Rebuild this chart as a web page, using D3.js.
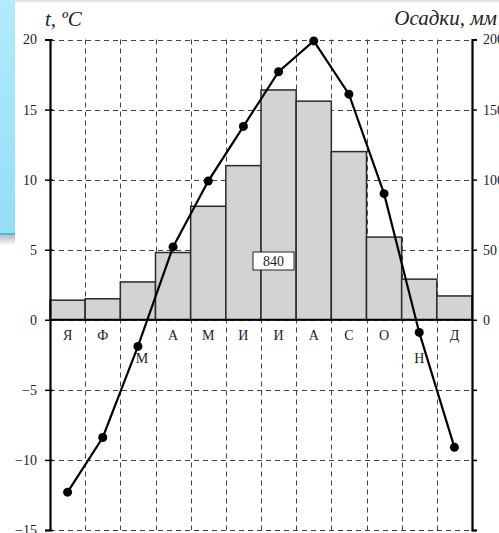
<!DOCTYPE html>
<html><head><meta charset="utf-8">
<script src="https://cdn.jsdelivr.net/npm/d3@7"></script>
<style>html,body{margin:0;padding:0;background:#fff;overflow:hidden}</style>
</head><body>
<svg id="c" width="499" height="533"></svg>
<script>
const months = ["Я","Ф","М","А","М","И","И","А","С","О","Н","Д"];
const temperature = [-12.3,-8.4,-1.9,5.2,9.9,13.8,17.7,19.9,16.1,9.0,-0.9,-9.1];
const precipitation = [14,15,27,48,81,110,164,156,120,59,29,17];
const tempTicks = [-15,-10,-5,0,5,10,15,20];
const precipTicks = [0,50,100,150,200];
const totalLabel = "840";

const svg = d3.select("#c");
const W = 499, H = 533;
const L = 50, R = 472, T = 39.5, B = 530;
const font = "'Liberation Serif','Times New Roman',serif";

// background decoration
const defs = svg.append("defs");
const g1 = defs.append("linearGradient").attr("id","blue").attr("x1",0).attr("y1",0).attr("x2",0).attr("y2",1);
g1.append("stop").attr("offset","0").attr("stop-color","#b3eafc");
g1.append("stop").attr("offset","1").attr("stop-color","#95def5");
const g2 = defs.append("linearGradient").attr("id","shadow").attr("x1",0).attr("y1",0).attr("x2",0).attr("y2",1);
g2.append("stop").attr("offset","0").attr("stop-color","#bdbdbd");
g2.append("stop").attr("offset","1").attr("stop-color","#ffffff");
svg.append("rect").attr("width",W).attr("height",H).attr("fill","#fff");
svg.append("rect").attr("x",0).attr("y",0).attr("width",W).attr("height",2).attr("fill","#e4e4e4");
svg.append("rect").attr("x",0).attr("y",0).attr("width",15).attr("height",233).attr("fill","url(#blue)");
svg.append("rect").attr("x",0).attr("y",233).attr("width",15).attr("height",2.5).attr("fill","#4fb6d3");
svg.append("rect").attr("x",0).attr("y",235.5).attr("width",15).attr("height",10).attr("fill","url(#shadow)");

const idx = d3.range(months.length);
const x = d3.scaleBand().domain(idx).range([L, R]).padding(0);
const yT = d3.scaleLinear().domain([-15, 20]).range([B, T]);
const yP = d3.scaleLinear().domain([-150, 200]).range([B, T]);

// grid
const grid = svg.append("g").attr("stroke","#444").attr("stroke-width",1).attr("stroke-dasharray","5,4").attr("fill","none");
tempTicks.forEach(t => {
  grid.append("line").attr("x1",L).attr("x2",R).attr("y1",Math.round(yT(t))+0.5).attr("y2",Math.round(yT(t))+0.5);
});
d3.range(1, months.length).forEach(i => {
  const xx = Math.round(x(i)) + 0.5;
  grid.append("line").attr("x1",xx).attr("x2",xx).attr("y1",T).attr("y2",B);
});

// bars
svg.append("g").selectAll("rect").data(idx).join("rect")
  .attr("x", i => x(i))
  .attr("width", x.bandwidth())
  .attr("y", i => yP(precipitation[i]))
  .attr("height", i => yP(0) - yP(precipitation[i]))
  .attr("fill","#d3d3d3").attr("stroke","#2a2a2a").attr("stroke-width",1.5);

// zero line
svg.append("line").attr("x1",L).attr("x2",R).attr("y1",yT(0)).attr("y2",yT(0)).attr("stroke","#000").attr("stroke-width",2);

// left axis
const leftAxis = d3.axisLeft(yT).tickValues(tempTicks).tickSize(5).tickPadding(8).tickFormat(d3.format("d"));
const ga = svg.append("g").attr("transform",`translate(${L},0)`).call(leftAxis);
ga.select(".domain").attr("stroke","#000").attr("stroke-width",2.2);
ga.selectAll(".tick line").attr("stroke","#000").attr("stroke-width",1.5).attr("x2",-5).attr("x1",3);
ga.selectAll(".tick text").attr("font-family",font).attr("font-size",14).attr("fill","#222");

// right axis
const rightAxis = d3.axisRight(yP).tickValues(d3.range(-150, 201, 50)).tickSize(5).tickPadding(6)
  .tickFormat(d => precipTicks.includes(d) ? String(d) : "");
const gr = svg.append("g").attr("transform",`translate(${R},0)`).call(rightAxis);
gr.select(".domain").attr("stroke","#000").attr("stroke-width",2.2);
gr.selectAll(".tick line").attr("stroke","#000").attr("stroke-width",1.5);
gr.selectAll(".tick text").attr("font-family",font).attr("font-size",14).attr("fill","#222");

// month labels
const lowered = new Set([2, 10]);
svg.append("g").selectAll("text").data(idx).join("text")
  .attr("x", i => x(i) + x.bandwidth()/2 + (i === 2 ? 4 : 0))
  .attr("y", i => lowered.has(i) ? 363 : 340)
  .attr("text-anchor","middle").attr("font-family",font).attr("font-size",14).attr("fill","#222")
  .text(i => months[i]);

// temperature line
const line = d3.line().x(i => x(i) + x.bandwidth()/2).y(i => yT(temperature[i]));
svg.append("path").attr("d", line(idx)).attr("fill","none").attr("stroke","#000").attr("stroke-width",2.2);
svg.append("g").selectAll("circle").data(idx).join("circle")
  .attr("cx", i => x(i) + x.bandwidth()/2).attr("cy", i => yT(temperature[i])).attr("r",4.5).attr("fill","#000");

// total box
const bx = x(6) - 8, by = 252;
svg.append("rect").attr("x",bx).attr("y",by).attr("width",41).attr("height",18).attr("fill","#fff").attr("stroke","#222").attr("stroke-width",1);
svg.append("text").attr("x",bx+20.5).attr("y",by+14).attr("text-anchor","middle").attr("font-family",font).attr("font-size",14).attr("fill","#222").text(totalLabel);

// titles
svg.append("text").attr("x",45).attr("y",26).attr("font-family",font).attr("font-style","italic").attr("font-size",21).attr("fill","#222").text("t, ºC");
svg.append("text").attr("x",497).attr("y",25).attr("text-anchor","end").attr("font-family",font).attr("font-style","italic").attr("font-size",21).attr("fill","#222").text("Осадки, мм");
</script>
</body></html>
